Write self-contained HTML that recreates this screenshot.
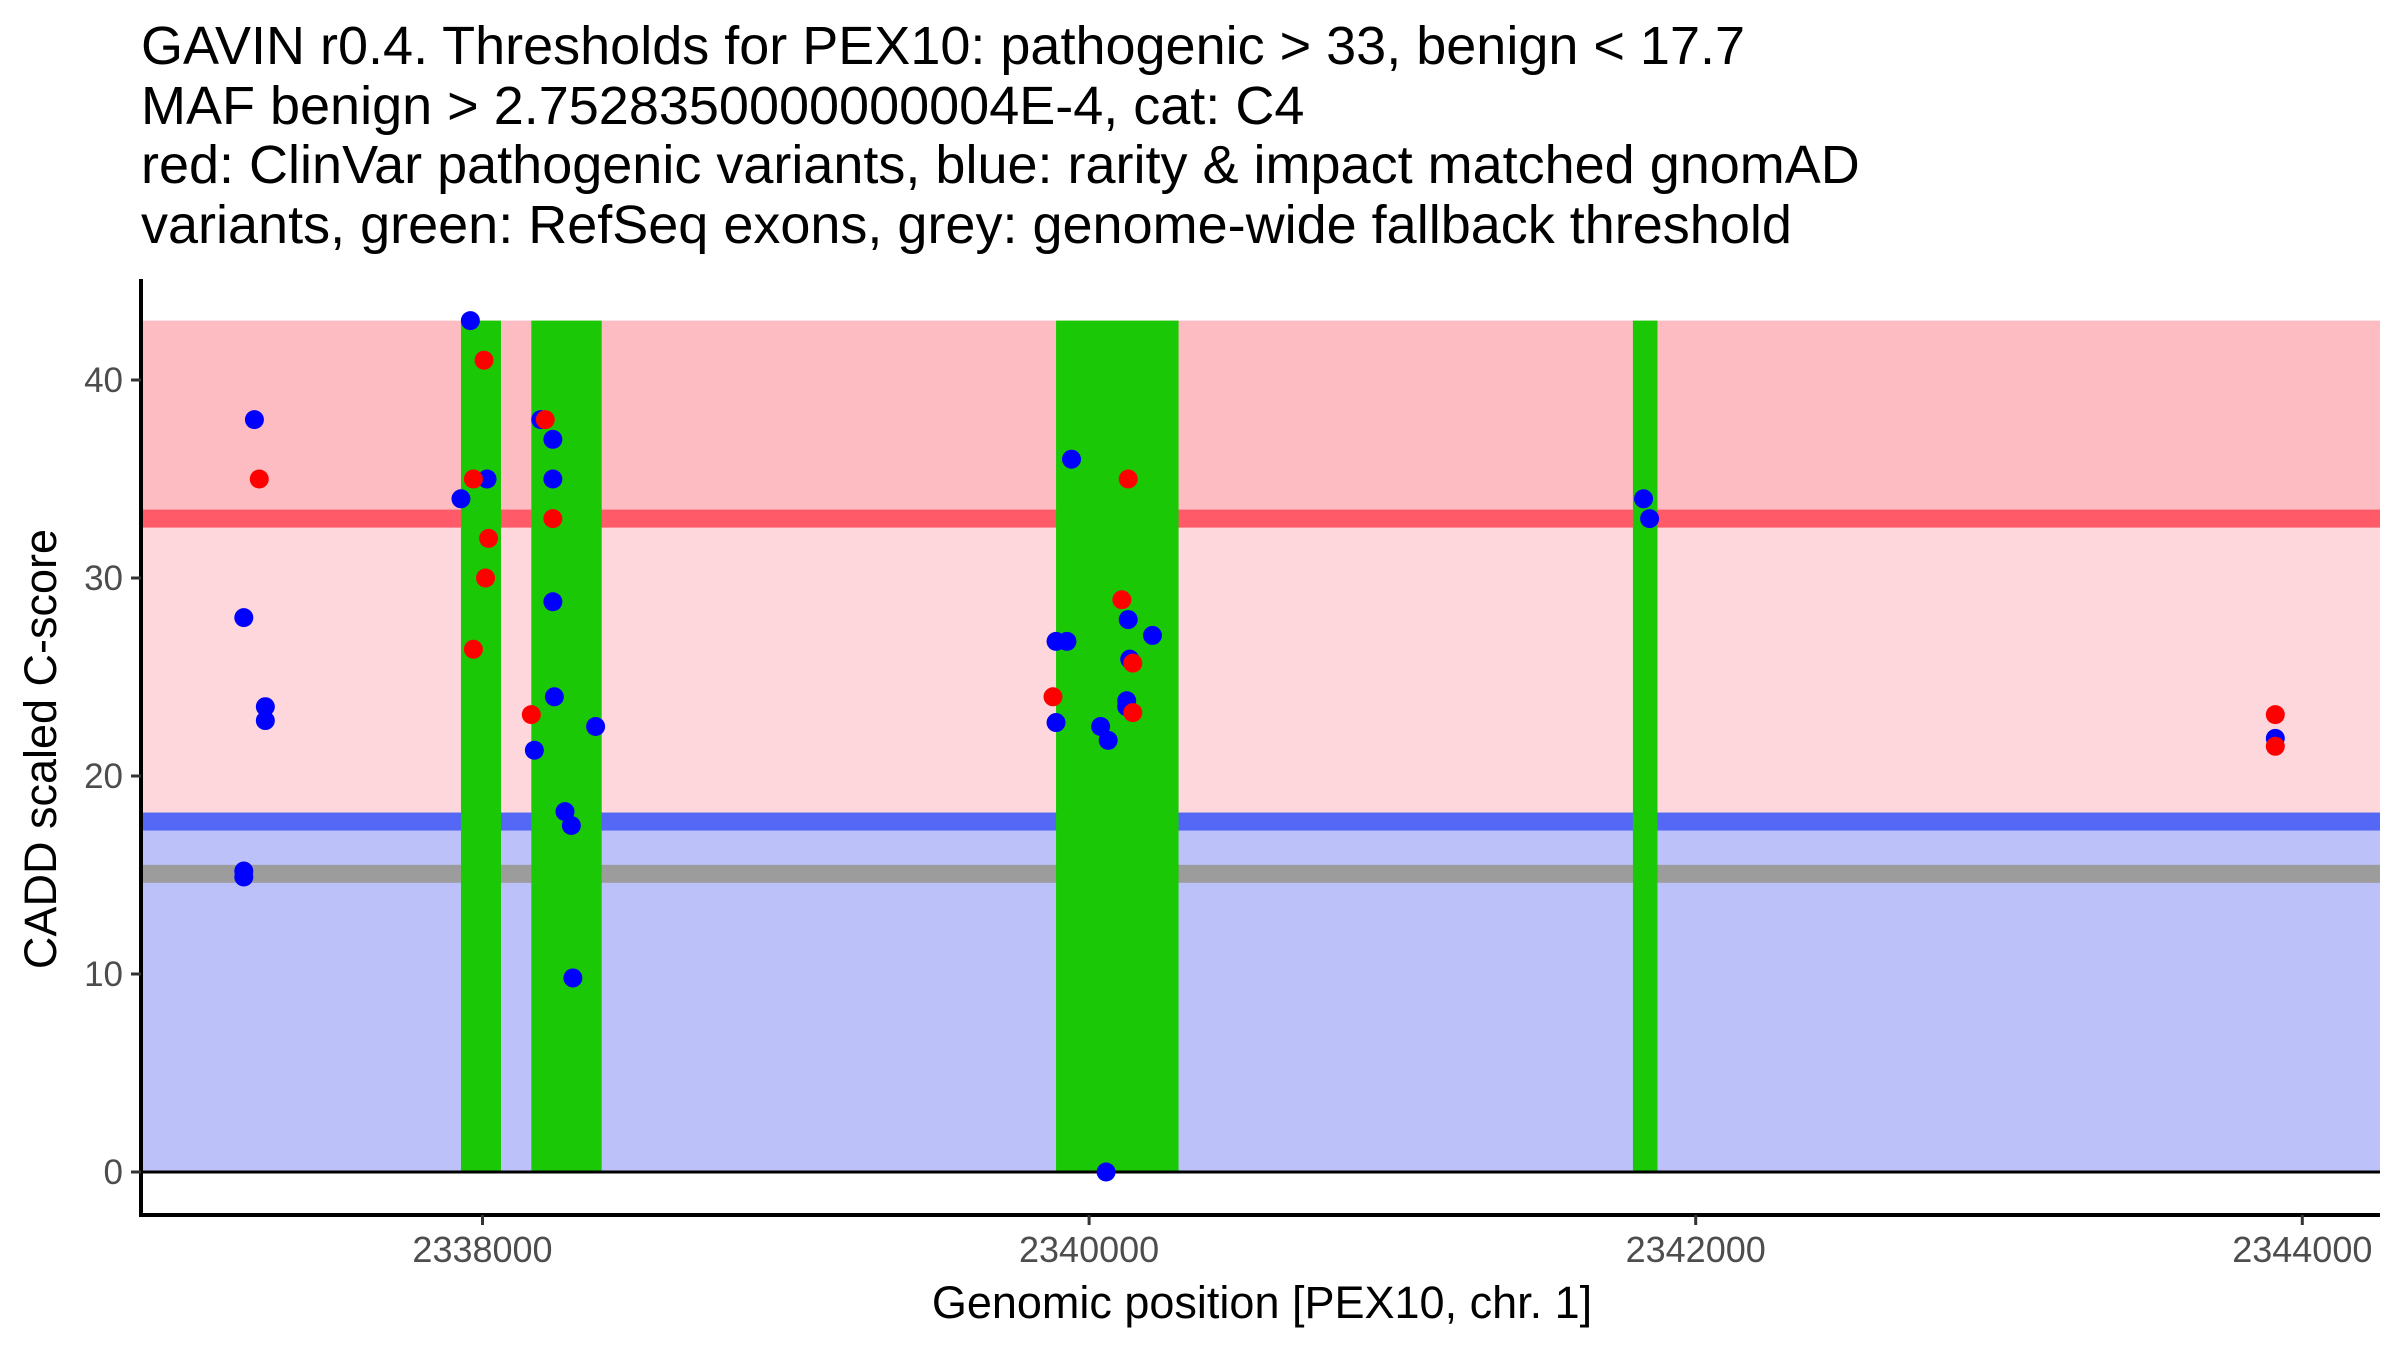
<!DOCTYPE html>
<html><head><meta charset="utf-8"><style>
html,body{margin:0;padding:0;background:#fff;}
svg{display:block;font-family:"Liberation Sans",Arial,sans-serif;}
</style></head><body>
<svg id="chart" width="2400" height="1350" viewBox="0 0 2400 1350">
<g font-size="54" fill="#000">
<text x="141" y="64">GAVIN r0.4. Thresholds for PEX10: pathogenic &gt; 33, benign &lt; 17.7</text>
<text x="141" y="124">MAF benign &gt; 2.7528350000000004E-4, cat: C4</text>
<text x="141" y="183">red: ClinVar pathogenic variants, blue: rarity &amp; impact matched gnomAD</text>
<text x="141" y="243">variants, green: RefSeq exons, grey: genome-wide fallback threshold</text>
</g>
<g id="bands"></g>
<g id="exons"></g>
<g id="lines"></g>
<g id="points"></g>
<g id="axes"></g>
<text x="1262" y="1318" font-size="45" text-anchor="middle" fill="#000">Genomic position [PEX10, chr. 1]</text>
<text transform="translate(56,749) rotate(-90)" font-size="45" text-anchor="middle" fill="#000">CADD scaled C-score</text>
</svg>
<script>
const exonStarts=[2337929,2338161,2339891,2341793];
const exonEnds=[2338061,2338393,2340295,2341874];
const pathogenicThreshold=33, benignThreshold=17.7, fallbackThreshold=15.06, yMax=43;
const blueX=[2337248,2337213,2337284,2337284,2337213,2337213,2337960,2338015,2337929,2338192,2338232,2338232,2338232,2338237,2338171,2338373,2338272,2338293,2338298,2339942,2340129,2340209,2339891,2339927,2340134,2340124,2340124,2339891,2340038,2340063,2340056,2341828,2341848,2343911];
const blueY=[38,28,23.5,22.8,15.2,14.9,43,35,34,38,37,35,28.8,24,21.3,22.5,18.2,17.5,9.8,36,27.9,27.1,26.8,26.8,25.9,23.8,23.5,22.7,22.5,21.8,0,34,33,21.9];
const redX=[2337264,2338005,2337970,2338020,2338010,2337970,2338207,2338232,2338161,2340129,2340108,2340144,2339881,2340144,2343911,2343911];
const redY=[35,41,35,32,30,26.4,38,33,23.1,35,28.9,25.7,24,23.2,23.1,21.5];
const xTicks=[2338000,2340000,2342000,2344000];
const yTicks=[0,10,20,30,40];

const NS="http://www.w3.org/2000/svg";
const L=141,R=2380,B=1215;
const sx=v=>482.5+(v-2338000)*0.3033;
const sy=v=>1172-v*19.8;
function mk(parent,tag,attrs){const e=document.createElementNS(NS,tag);for(const k in attrs)e.setAttribute(k,attrs[k]);document.getElementById(parent).appendChild(e);return e;}

let e;
e=mk('bands','rect',{x:L+2,y:sy(yMax),width:R-L-2,height:sy(pathogenicThreshold)-sy(yMax),fill:'#fcbcc1'});


e=mk('bands','rect',{x:L+2,y:sy(pathogenicThreshold),width:R-L-2,height:sy(benignThreshold)-sy(pathogenicThreshold),fill:'#fdd7dc'});


e=mk('bands','rect',{x:L+2,y:sy(benignThreshold),width:R-L-2,height:sy(0)-sy(benignThreshold),fill:'#bcc2f9'});



const lines=[[pathogenicThreshold,'#ff5a68','pathogenic-threshold-line'],[benignThreshold,'#5468f5','benign-threshold-line'],[fallbackThreshold,'#9c9c9c','fallback-threshold-line']];
for(const [v,c,n] of lines){
 e=mk('lines','rect',{x:L+2,y:sy(v)-9,width:R-L-2,height:18,fill:c});
 
 
}
for(let i=0;i<exonStarts.length;i++){
 e=mk('lines','rect',{x:sx(exonStarts[i]),y:sy(yMax),width:sx(exonEnds[i])-sx(exonStarts[i]),height:sy(0)-sy(yMax),fill:'#1bc805'});
 
 
}
e=mk('lines','line',{x1:L,x2:R,y1:sy(0),y2:sy(0),stroke:'#000','stroke-width':3});



for(let i=0;i<blueX.length;i++){
 e=mk('points','circle',{cx:sx(blueX[i]),cy:sy(blueY[i]),r:9.5,fill:'#0000ff'});
 
 
}
for(let i=0;i<redX.length;i++){
 e=mk('points','circle',{cx:sx(redX[i]),cy:sy(redY[i]),r:9.5,fill:'#ff0000'});
 
 
}
e=mk('axes','line',{x1:L,x2:L,y1:279,y2:B+1.5,stroke:'#000','stroke-width':4});


e=mk('axes','line',{x1:L-2,x2:R,y1:B,y2:B,stroke:'#000','stroke-width':4});


for(const t of yTicks){
 e=mk('axes','line',{x1:L-10,x2:L,y1:sy(t),y2:sy(t),stroke:'#333','stroke-width':3});
 
 
 e=mk('axes','text',{x:L-18,y:sy(t)+12,'font-size':35,'text-anchor':'end',fill:'#4d4d4d'});
 e.textContent=t;
 
 
}
for(const t of xTicks){
 e=mk('axes','line',{x1:sx(t),x2:sx(t),y1:B,y2:B+10,stroke:'#333','stroke-width':3});
 
 
 e=mk('axes','text',{x:sx(t),y:B+47,'font-size':36,'text-anchor':'middle',fill:'#4d4d4d'});
 e.textContent=t;
 
 
}
</script>
</body></html>
